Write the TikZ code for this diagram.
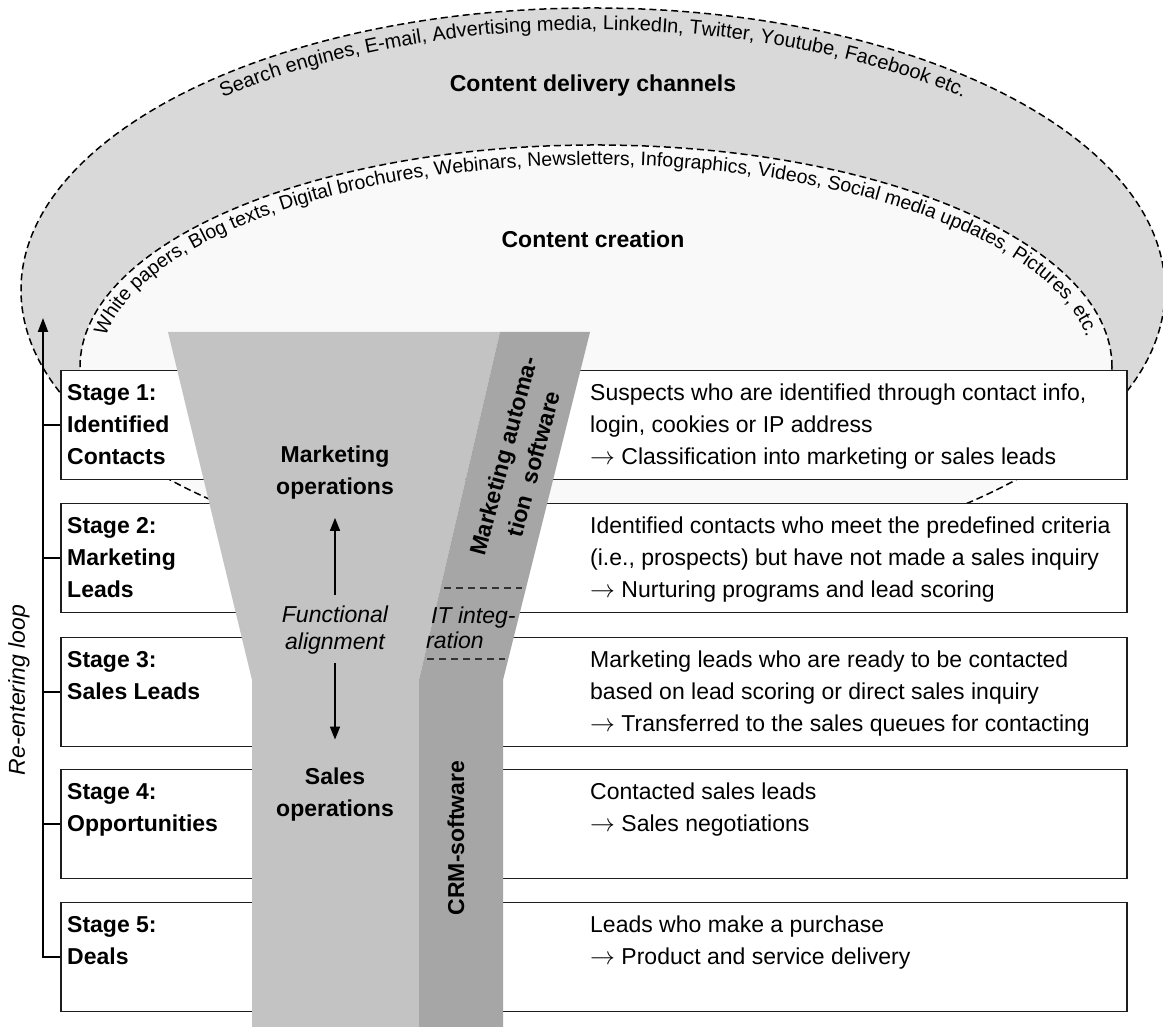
\documentclass[tikz,border=0pt]{standalone}
\usepackage{fontspec}
\setmainfont{Liberation Sans}
\usetikzlibrary{arrows.meta,decorations.text}
\definecolor{bandgray}{RGB}{217,217,217}
\definecolor{innergray}{RGB}{249,249,249}
\definecolor{funnellight}{RGB}{195,195,195}
\definecolor{funneldark}{RGB}{166,166,166}
\definecolor{boxline}{RGB}{30,30,30}
\begin{document}
\begin{tikzpicture}[x=1pt,y=1pt,
  dashline/.style={dash pattern=on 7pt off 4pt, line width=1.5pt, draw=black},
  stripdash/.style={dash pattern=on 7pt off 5pt, line width=1.4pt, draw=black!80},
  stagebox/.style={draw=boxline, line width=1.5pt, fill=white, minimum width=1066pt, minimum height=109pt, anchor=north west, inner sep=0pt},
  stagetxt/.style={anchor=north west, inner sep=0pt, align=left, font=\bfseries\fontsize{23}{32}\selectfont},
  desctxt/.style={anchor=north west, inner sep=0pt, align=left, font=\fontsize{23}{32.3}\selectfont},
  titletxt/.style={inner sep=0pt, font=\bfseries\fontsize{23}{28}\selectfont},
  optxt/.style={inner sep=0pt, align=center, font=\bfseries\fontsize{23}{32}\selectfont},
  ittxt/.style={inner sep=0pt, align=center, font=\itshape\fontsize{23}{27}\selectfont},
  arr/.style={line width=1.6pt, -{Triangle[length=13pt,width=10pt]}},
  looparrow/.style={line width=2pt, -{Triangle[length=14pt,width=10pt]}},
  tick/.style={line width=2pt}
]
\useasboundingbox (0,0) rectangle (1163,1027);

% outer ellipse (content delivery channels)
\fill[bandgray] (593,737) ellipse [x radius=572pt, y radius=282pt];
\begin{scope}
  \clip (593,737) ellipse [x radius=572pt, y radius=282pt];
  \fill[innergray] (596,660) ellipse [x radius=516pt, y radius=222pt];
  \draw[dashline] (596,660) ellipse [x radius=516pt, y radius=222pt];
\end{scope}
\draw[dashline] (593,737) ellipse [x radius=572pt, y radius=282pt];

% curved texts
\path[decorate, decoration={text along path, text align=center,
  text={|\fontsize{20}{24}\selectfont|Search engines, E-mail, Advertising media, LinkedIn, Twitter, Youtube, Facebook etc.}}]
  (48.3,773.2) arc[start angle=172, end angle=8, x radius=550pt, y radius=260pt];
\path[decorate, decoration={text along path, text align=center,
  text={|\fontsize{19.5}{24}\selectfont|White papers, Blog texts, Digital brochures, Webinars, Newsletters, Infographics, Videos, Social media updates, Pictures, etc.}}]
  (100.3,667.05) arc[start angle=178, end angle=2, x radius=496pt, y radius=202pt];

\node[titletxt] (cdc) at (593,941) {Content delivery channels};
\node[titletxt] (cc) at (593,788) {Content creation};

% stage boxes
\node[stagebox] (b1) at (60,657) {};
\node[stagebox] (b2) at (60,524) {};
\node[stagebox] (b3) at (60,390) {};
\node[stagebox] (b4) at (60,258) {};
\node[stagebox] (b5) at (60,125) {};

\node[stagetxt] (s1) at ([xshift=7pt,yshift=-12pt]b1.north west) {\rule{0pt}{18pt}Stage 1:\\Identified\\Contacts};
\node[stagetxt] (s2) at ([xshift=7pt,yshift=-12pt]b2.north west) {\rule{0pt}{18pt}Stage 2:\\Marketing\\Leads};
\node[stagetxt] (s3) at ([xshift=7pt,yshift=-12pt]b3.north west) {\rule{0pt}{18pt}Stage 3:\\Sales Leads};
\node[stagetxt] (s4) at ([xshift=7pt,yshift=-12pt]b4.north west) {\rule{0pt}{18pt}Stage 4:\\Opportunities};
\node[stagetxt] (s5) at ([xshift=7pt,yshift=-12pt]b5.north west) {\rule{0pt}{18pt}Stage 5:\\Deals};

\node[desctxt] (d1) at (590,645) {\rule{0pt}{18pt}Suspects who are identified through contact info,\\login, cookies or IP address\\$\rightarrow$ Classification into marketing or sales leads};
\node[desctxt] (d2) at (590,512) {\rule{0pt}{18pt}Identified contacts who meet the predefined criteria\\(i.e., prospects) but have not made a sales inquiry\\$\rightarrow$ Nurturing programs and lead scoring};
\node[desctxt] (d3) at (590,378) {\rule{0pt}{18pt}Marketing leads who are ready to be contacted\\based on lead scoring or direct sales inquiry\\$\rightarrow$ Transferred to the sales queues for contacting};
\node[desctxt] (d4) at (590,246) {\rule{0pt}{18pt}Contacted sales leads\\$\rightarrow$ Sales negotiations};
\node[desctxt] (d5) at (590,113) {\rule{0pt}{18pt}Leads who make a purchase\\$\rightarrow$ Product and service delivery};

% funnel
\fill[funnellight] (168,695) -- (500,695) -- (419,347) -- (419,0) -- (252,0) -- (252,347) -- cycle;
\fill[funneldark] (500,695) -- (590,695) -- (503,347) -- (503,0) -- (419,0) -- (419,347) -- cycle;

\draw[stripdash] (444,439) -- (522,439);
\draw[stripdash] (427,368) -- (505,368);

\node[inner sep=0pt, anchor=north west, align=left, font=\itshape\fontsize{23}{25.5}\selectfont] (it) at (431,421) {\rule{0pt}{17pt}IT integ-\\\hspace*{-5pt}ration};

\node[rotate=75, optxt, font=\bfseries\fontsize{23}{31}\selectfont] (mas) at (518,567) {Marketing automa-\\tion\hspace{0.55em}software};
\node[rotate=90, inner sep=0pt, font=\bfseries\fontsize{23}{28}\selectfont] (crm) at (456,189) {CRM-software};

\node[optxt] (mo) at (335,554) {Marketing\\operations};
\node[ittxt] (fa) at (335,396.5) {Functional\\alignment};
\node[optxt] (so) at (335,232.5) {Sales\\operations};

\draw[arr] ([yshift=11pt]fa.north) -- ([yshift=-18pt]mo.south);
\draw[arr] ([yshift=-8pt]fa.south) -- ([yshift=28pt]so.north);

% re-entering loop
\coordinate (looptop) at (43,709);
\draw[looparrow] (b5.west) -- (b5.west -| looptop) -- (looptop);
\draw[tick] (b1.west) -- (b1.west -| looptop);
\draw[tick] (b2.west) -- (b2.west -| looptop);
\draw[tick] (b3.west) -- (b3.west -| looptop);
\draw[tick] (b4.west) -- (b4.west -| looptop);
\node[rotate=90, inner sep=0pt, font=\itshape\fontsize{23}{28}\selectfont] (loop) at (19,337) {Re-entering loop};
\end{tikzpicture}
\end{document}
